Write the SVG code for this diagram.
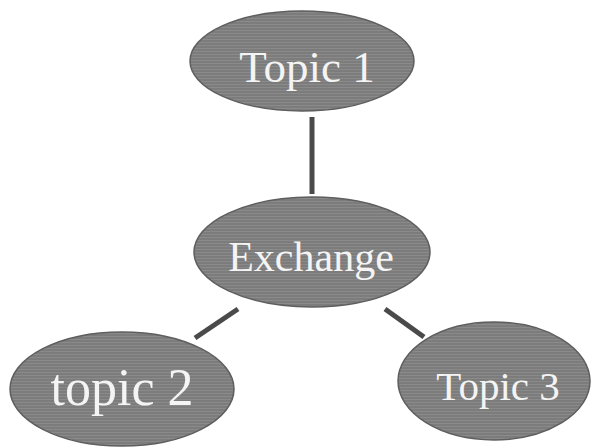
<svg xmlns="http://www.w3.org/2000/svg" width="592" height="448" viewBox="0 0 592 448">
<defs>
<pattern id="ht" width="4" height="3" patternUnits="userSpaceOnUse">
<rect width="4" height="3" fill="#7c7c7c"/>
<rect width="4" height="1" fill="#8a8a8a"/>
</pattern>
</defs>
<style>
.node{fill:url(#ht);stroke:#5e5e5e;stroke-width:1.5}
.lbl{font-family:"Liberation Serif","Times New Roman",serif;fill:#f4f4f4;text-anchor:middle}
.edge{stroke:#4a4a4a;stroke-width:5;stroke-linecap:butt}
</style>
<rect width="592" height="448" fill="#ffffff"/>
<g id="connectors">
<line class="edge" x1="312" y1="117" x2="312" y2="194"/>
<line class="edge" x1="238" y1="309" x2="195" y2="338"/>
<line class="edge" x1="385" y1="309" x2="424" y2="337"/>
</g>
<g id="topic1">
<ellipse class="node" cx="302" cy="61" rx="112" ry="50"/>
<text class="lbl" x="307" y="82" font-size="45">Topic 1</text>
</g>
<g id="exchange">
<ellipse class="node" cx="312" cy="252" rx="118" ry="55"/>
<text class="lbl" x="311" y="271" font-size="42">Exchange</text>
</g>
<g id="topic2">
<ellipse class="node" cx="122" cy="389" rx="112" ry="57"/>
<text class="lbl" x="122" y="405" font-size="52">topic 2</text>
</g>
<g id="topic3">
<ellipse class="node" cx="494" cy="381" rx="96" ry="59"/>
<text class="lbl" x="498" y="400" font-size="41">Topic 3</text>
</g>
</svg>
